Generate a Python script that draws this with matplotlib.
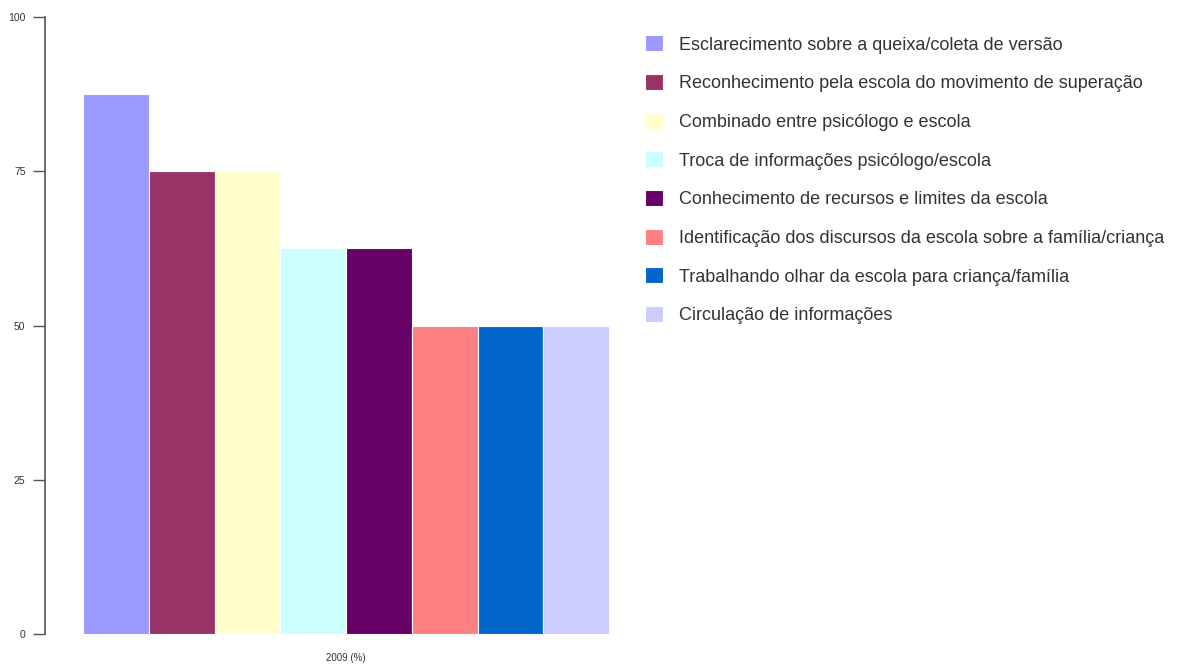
import matplotlib.pyplot as plt

# data
categories = ["Esclarecimento sobre a queixa/coleta de versão",
              "Reconhecimento pela escola do movimento de superação",
              "Combinado entre psicólogo e escola",
              "Troca de informações psicólogo/escola",
              "Conhecimento de recursos e limites da escola",
              "Identificação dos discursos da escola sobre a família/criança",
              "Trabalhando olhar da escola para criança/família",
              "Circulação de informações"]
values = [87.5, 75, 75, 62.5, 62.5, 50, 50, 50]
colors = ["#9999FF", "#993366", "#FFFFCC", "#CCFFFF",
          "#660066", "#FF8080", "#0066CC", "#CCCCFF"]
group_label = "2009 (%)"
yticks = [0, 25, 50, 75, 100]

plt.rcParams['font.family'] = ['Liberation Sans', 'DejaVu Sans']

fig = plt.figure(figsize=(11.77, 6.66), dpi=100)
W, H = 1177, 666
ax = fig.add_axes([45 / W, 1 - 634 / H, (620 - 45) / W, (634 - 17) / H])

pos = list(range(len(values)))
handles = ax.bar(pos, values, width=1.0, color=colors, edgecolor='white', linewidth=0.8)

unit = (609 - 83) / len(values)
ax.set_xlim(-0.5 - 38 / unit, len(values) - 0.5 + 11 / unit)
ax.set_ylim(0, 100)
ax.set_yticks(yticks)
ax.set_xticks([(len(values) - 1) / 2])
ax.set_xticklabels([group_label], fontsize=7, color='#333333')
ax.tick_params(axis='x', length=0, pad=14)
ax.tick_params(axis='y', length=9, width=1, color='#555555', labelsize=7.5,
               labelcolor='#333333', pad=5)
for s in ['top', 'right', 'bottom']:
    ax.spines[s].set_visible(False)
ax.spines['left'].set_color('#555555')
ax.spines['left'].set_linewidth(1.2)

fig.legend(handles, categories, loc='upper left', bbox_to_anchor=(629 / W, 1 - 19 / H),
           frameon=False, fontsize=13, handlelength=1.0, handleheight=1.0,
           handletextpad=0.85, labelspacing=1.13, labelcolor='#333333')

plt.savefig('out.png', dpi=100)
